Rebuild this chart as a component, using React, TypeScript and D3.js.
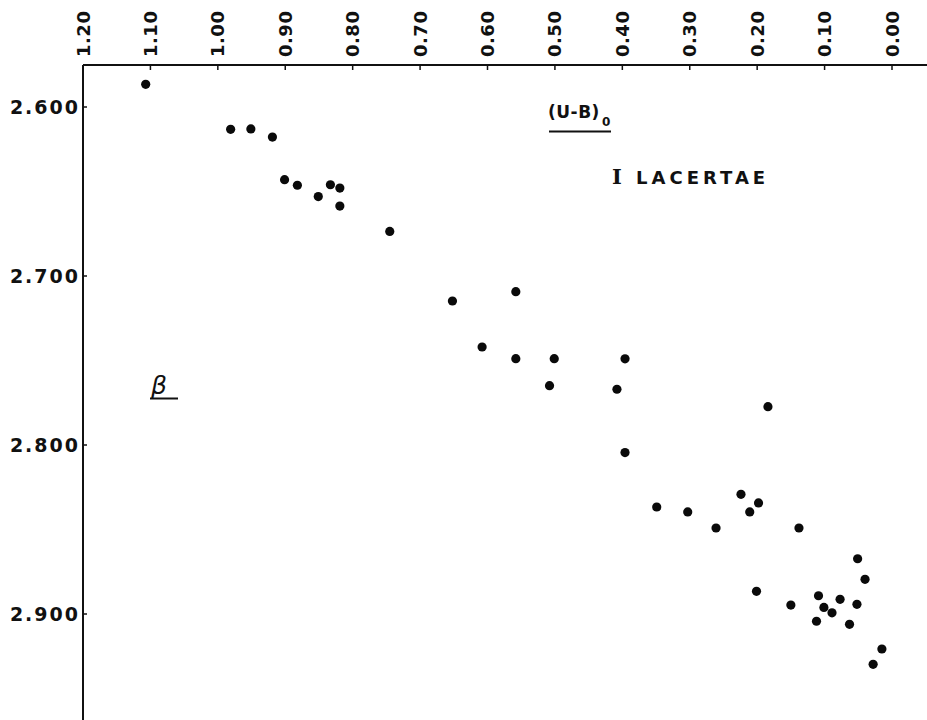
import React from "react";
import * as d3 from "d3";

const ubValues = [
  1.107, 0.981, 0.951, 0.919, 0.901, 0.882, 0.851, 0.833, 0.819, 0.819, 0.745,
  0.652, 0.558, 0.608, 0.558, 0.501, 0.396, 0.508, 0.408, 0.396,
  0.184, 0.224, 0.198, 0.349, 0.211, 0.303, 0.261, 0.138, 0.051, 0.040, 0.201,
  0.109, 0.077, 0.150, 0.052, 0.101, 0.089, 0.112, 0.063, 0.015, 0.028,
];
const betaValues = [
  2.5866, 2.6132, 2.613, 2.6178, 2.643, 2.6463, 2.653, 2.646, 2.648, 2.6586, 2.6736,
  2.7148, 2.7093, 2.742, 2.7489, 2.7489, 2.749, 2.7649, 2.767, 2.8045,
  2.7773, 2.8292, 2.8343, 2.8367, 2.8396, 2.8396, 2.8491, 2.8491, 2.8673, 2.8795, 2.8866,
  2.8892, 2.8913, 2.8947, 2.8943, 2.8961, 2.8993, 2.9043, 2.9061, 2.9207, 2.9298,
];
const xTicks = [1.2, 1.1, 1.0, 0.9, 0.8, 0.7, 0.6, 0.5, 0.4, 0.3, 0.2, 0.1, 0.0];
const xTickLabels = ["1.20", "1.10", "1.00", "0.90", "0.80", "0.70", "0.60", "0.50", "0.40", "0.30", "0.20", "0.10", "0.00"];
const yTicks = [2.6, 2.7, 2.8, 2.9];
const yTickLabels = ["2.600", "2.700", "2.800", "2.900"];

const W = 927;
const H = 720;
const axisX = 83;
const axisY = 65;
const ink = "#111";
const font = "'DejaVu Sans', sans-serif";

export default function App() {
  const x = d3.scaleLinear().domain([1.2, 0.0]).range([83, 892]);
  const y = d3.scaleLinear().domain([2.6, 2.9]).range([107, 614]);
  const points = ubValues.map((u, i) => ({ u, b: betaValues[i] }));

  return (
    <svg
      width={W}
      height={H}
      style={{ position: "absolute", left: 0, top: 0, background: "#fff" }}
    >
      <rect x={0} y={0} width={W} height={H} fill="#fff" />
      {/* axes */}
      <line x1={axisX} y1={axisY} x2={W} y2={axisY} stroke={ink} strokeWidth={2} />
      <line x1={axisX} y1={axisY} x2={axisX} y2={H} stroke={ink} strokeWidth={2} />
      {/* x ticks and labels (top) */}
      {xTicks.map((t, i) => (
        <g key={"xt" + i}>
          <line x1={x(t)} y1={axisY} x2={x(t)} y2={axisY + 5} stroke={ink} strokeWidth={1.5} />
          <text
            transform={`translate(${x(t) + 6.5},${axisY - 8}) rotate(-90)`}
            fontFamily={font}
            fontWeight="bold"
            fontSize={18}
            letterSpacing={0.5}
            fill={ink}
            textAnchor="start"
          >
            {xTickLabels[i]}
          </text>
        </g>
      ))}
      {/* y ticks and labels */}
      {yTicks.map((t, i) => (
        <g key={"yt" + i}>
          <line x1={axisX} y1={y(t)} x2={axisX + 4} y2={y(t)} stroke={ink} strokeWidth={1.5} />
          <text
            x={axisX - 3}
            y={y(t) + 7}
            fontFamily={font}
            fontWeight="bold"
            fontSize={19}
            letterSpacing={2}
            fill={ink}
            textAnchor="end"
          >
            {yTickLabels[i]}
          </text>
        </g>
      ))}
      {/* points */}
      {points.map((p, i) => (
        <circle key={"p" + i} cx={x(p.u)} cy={y(p.b)} r={4.6} fill="#0a0a0a" />
      ))}
      {/* x-axis title */}
      <text x={548} y={118} fontFamily={font} fontWeight="bold" fontSize={17} letterSpacing={0.5} fill={ink}>
        (U-B)
      </text>
      <text x={602} y={126} fontFamily={font} fontWeight="bold" fontSize={12} fill={ink}>
        0
      </text>
      <line x1={549} y1={131.5} x2={611} y2={131.5} stroke={ink} strokeWidth={2} />
      {/* star name */}
      <text x={612} y={184} fontFamily={font} fontWeight="bold" fontSize={18} letterSpacing={4} fill={ink}>
        <tspan fontFamily="'DejaVu Serif', serif" fontSize={21}>I</tspan>
        <tspan> LACERTAE</tspan>
      </text>
      {/* y-axis title */}
      <text x={151} y={394} fontFamily={font} fontStyle="italic" fontSize={25} fill={ink}>
        β
      </text>
      <line x1={150} y1={398.5} x2={178} y2={398.5} stroke={ink} strokeWidth={2} />
    </svg>
  );
}
